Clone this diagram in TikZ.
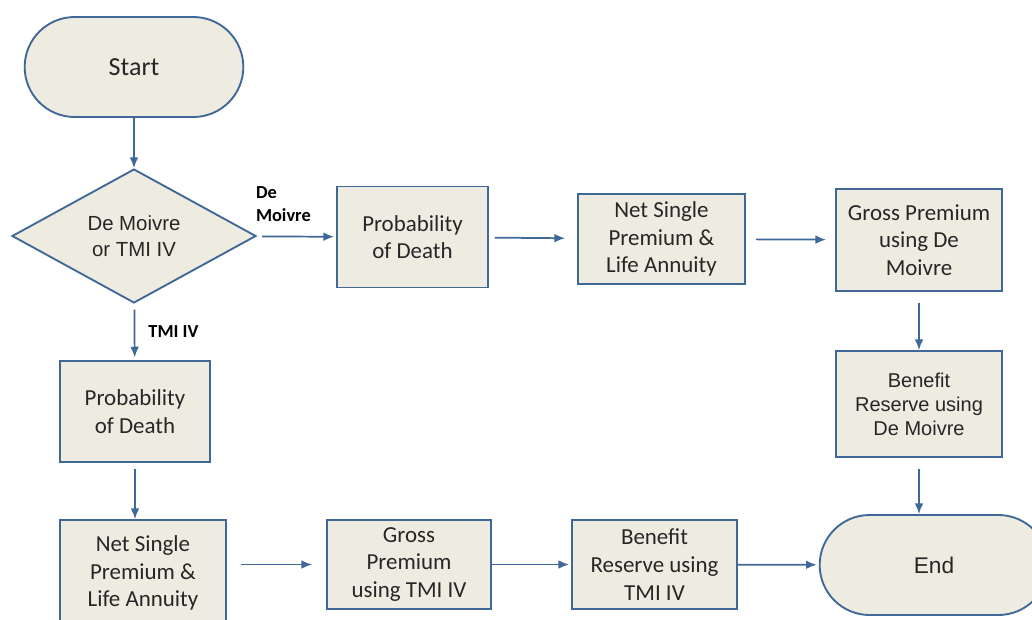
\documentclass[tikz,border=0pt]{standalone}
\usepackage{fontspec}
\setmainfont{Carlito}
\newfontfamily\arialfont{Liberation Sans}
\usetikzlibrary{arrows.meta,shapes}
\definecolor{boxfill}{HTML}{EEECE1}
\definecolor{boxline}{HTML}{3F6797}
\definecolor{txt}{HTML}{262626}

\begin{document}
\begin{tikzpicture}[->,>={Latex[length=8pt,width=6.5pt]},x=0.75pt,y=-0.75pt,
    box/.style={shape=rectangle,draw=boxline,fill=boxfill,line width=1.4pt,align=center,text=txt,
      inner sep=2pt,font=\fontsize{17.2}{20.8}\selectfont},
    terminal/.style={box,shape=rounded rectangle},
    decision/.style={box,shape=diamond,inner sep=0pt,font=\arialfont\fontsize{15.3}{19.5}\selectfont},
    lbl/.style={font=\bfseries\fontsize{13.8}{17}\selectfont,align=left,inner sep=0pt,text=black},
    every edge/.style={draw=boxline,line width=1.3pt}]
                \useasboundingbox (0,0) rectangle (1032,619);
                % De Moivre branch
                \node[terminal,minimum width=168pt,minimum height=75pt,font=\fontsize{19.5}{23}\selectfont](Start)at(134, 67){Start};
                \node[decision,minimum width=183pt,minimum height=99pt](Choice)at(134, 236){De Moivre\\or TMI IV};
                \node[box,minimum width=113.25pt,minimum height=75.75pt](ProbDM)at(412.5, 237){Probability\\of Death};
                \node[box,minimum width=125.25pt,minimum height=67.5pt](NspDM)at(661.5, 239){Net Single\\Premium \&\\Life Annuity};
                \node[box,minimum width=124.5pt,minimum height=76.5pt](GrossDM)at(919, 240){Gross Premium\\using De\\Moivre};
                \node[box,minimum width=124.5pt,minimum height=79.5pt,font=\arialfont\fontsize{15}{18}\selectfont](ResDM)at(919, 404){Benefit\\Reserve using\\De Moivre};
                % TMI IV branch
                \node[box,minimum width=112.5pt,minimum height=75.75pt](ProbTMI)at(135, 411.5){Probability\\of Death};
                \node[box,minimum width=124.5pt,minimum height=79.5pt](NspTMI)at(143, 573){Net Single\\Premium \&\\Life Annuity};
                \node[box,minimum width=123pt,minimum height=66.75pt](GrossTMI)at(409, 564.5){Gross\\Premium\\using TMI IV};
                \node[box,minimum width=123.75pt,minimum height=66.75pt](ResTMI)at(654.5, 564.5){Benefit\\Reserve using\\TMI IV};
                \node[terminal,minimum width=175.5pt,minimum height=75pt,font=\arialfont\fontsize{17}{20}\selectfont](End)at(934, 565){End};
                \path(Start) edge (Choice)
                (Choice) edge[shorten <=4.5pt,shorten >=1.5pt] node[lbl,pos=0,anchor=south west,xshift=-0.75pt,yshift=10.5pt]{De\\Moivre} (ProbDM)
                (ProbDM) edge[shorten <=4.5pt,shorten >=9pt] (NspDM)
                (NspDM) edge[shorten <=7.5pt,shorten >=6.75pt] (GrossDM)
                (GrossDM) edge[shorten <=8pt] (ResDM)
                (ResDM) edge[shorten <=8pt] (ResDM |- End.north)
                (Choice) edge[shorten <=4.5pt,shorten >=2pt] node[lbl,pos=0.49,anchor=west,xshift=9.75pt]{TMI IV} (ProbTMI)
                (ProbTMI) edge[shorten <=4.5pt] (ProbTMI |- NspTMI.north)
                (NspTMI.east |- GrossTMI) edge[shorten <=10.5pt,shorten >=10.5pt] (GrossTMI)
                (GrossTMI) edge[shorten >=1.5pt] (ResTMI)
                (ResTMI) edge[shorten >=1.5pt] (End);
            \end{tikzpicture}
\end{document}
